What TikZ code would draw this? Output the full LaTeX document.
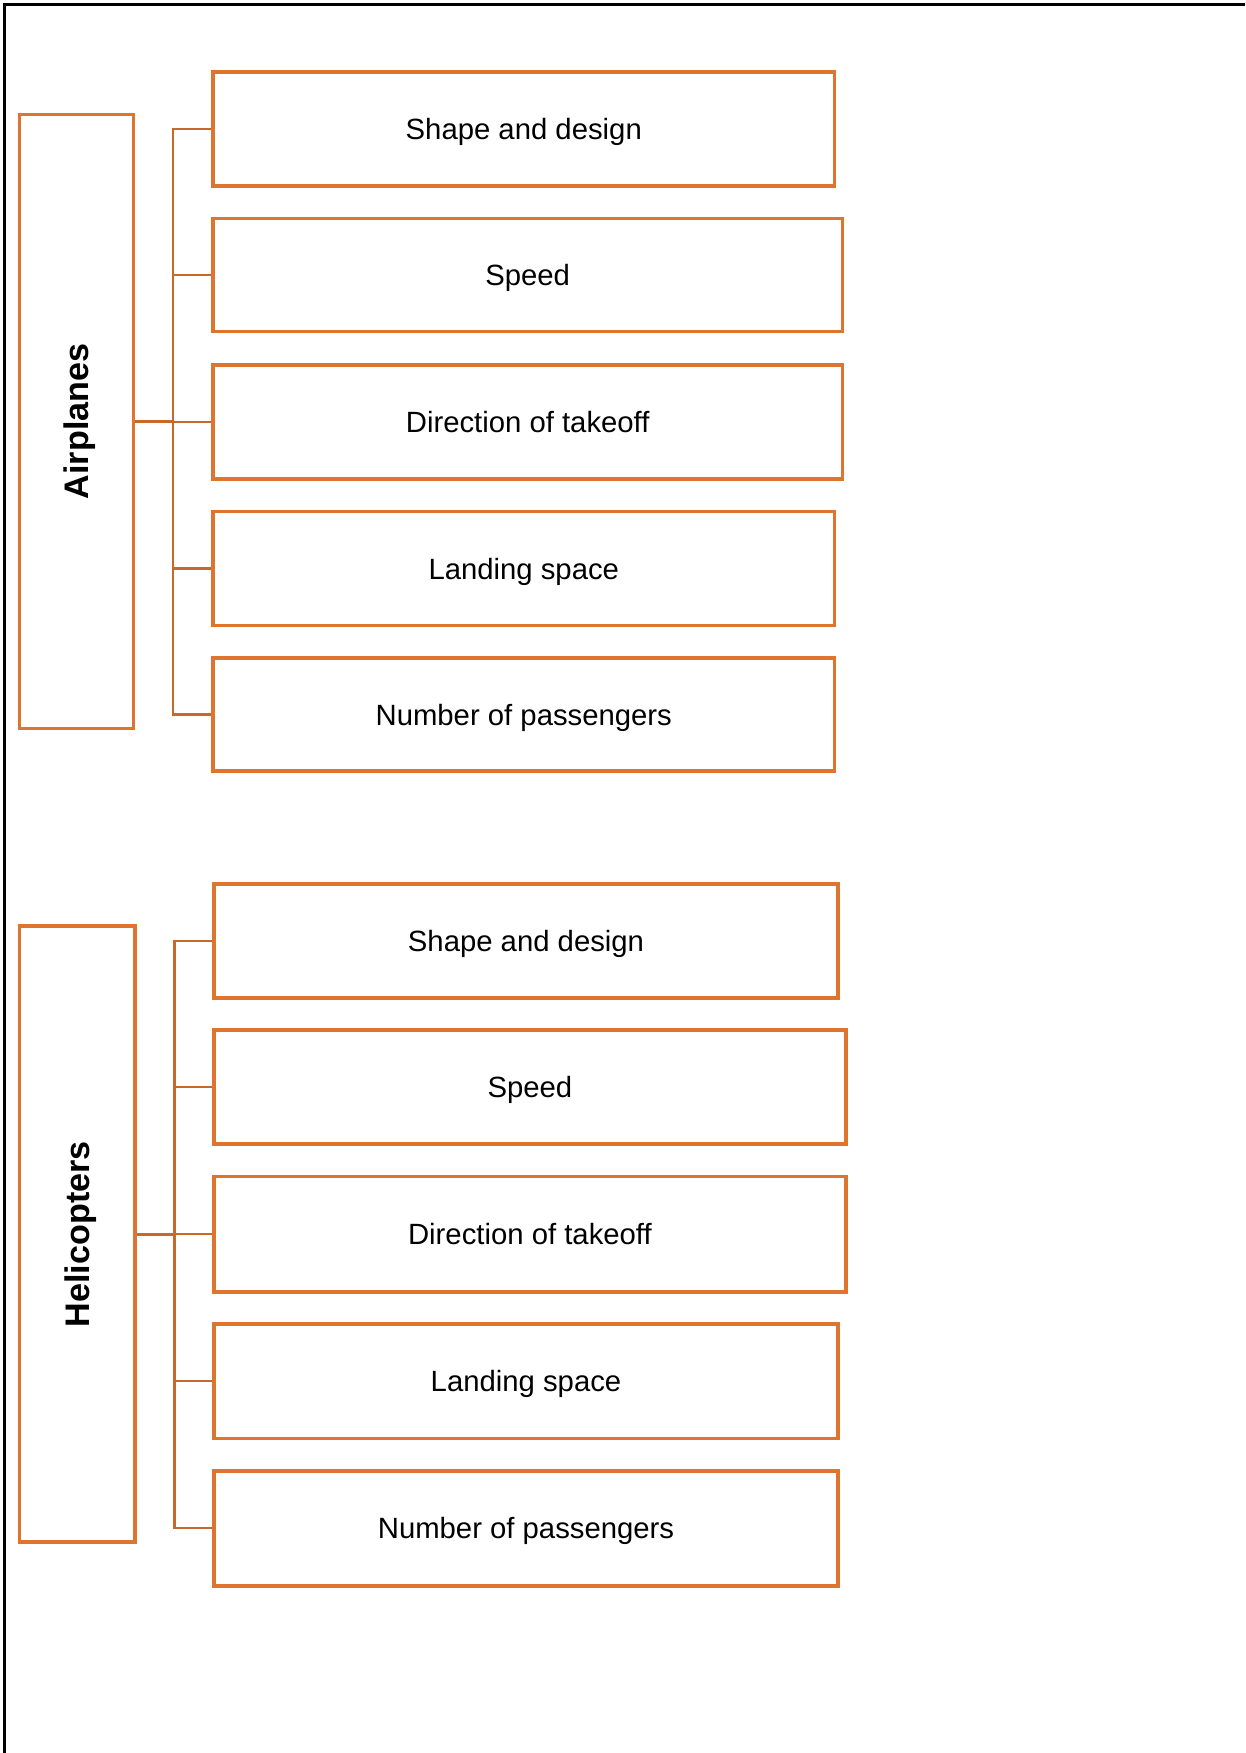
\documentclass[tikz,border=0pt]{standalone}
\usepackage{fontspec}
\setmainfont{Liberation Sans}
\definecolor{boxorange}{RGB}{222,116,46}
\definecolor{lineorange}{RGB}{200,104,42}
\begin{document}
\begin{tikzpicture}[x=1pt,y=-1pt,
  itembox/.style={draw=boxorange,line width=3.2pt,fill=white,inner sep=0pt,
    text height=19pt,text depth=0pt,
    font=\fontsize{26.2}{31}\selectfont},
  groupbox/.style={draw=boxorange,line width=3.2pt,fill=white,inner sep=0pt},
  grouplabel/.style={font=\fontsize{30.5}{36}\selectfont\bfseries,rotate=90,
    text height=22pt,text depth=0pt,inner sep=0pt},
  conn/.style={draw=lineorange,line width=2pt},
  mainconn/.style={draw=lineorange,line width=3pt}]
\useasboundingbox (0,0) rectangle (1114,1568);
\draw[black,line width=2pt] (4,1568) -- (4,4) -- (1114,4);
% Airplanes
\node[groupbox,minimum width=102pt,minimum height=549pt] (A) at (68.5,377) {};
\node[grouplabel] (Alab) at (A.center) {Airplanes};
\node[itembox,minimum width=556pt,minimum height=102pt] (a1) at (468.5,115.5) {Shape and design};
\node[itembox,minimum width=563pt,minimum height=101pt] (a2) at (472,246) {Speed};
\node[itembox,minimum width=563pt,minimum height=102pt] (a3) at (472,377.5) {Direction of takeoff};
\node[itembox,minimum width=556pt,minimum height=102pt] (a4) at (468.5,508.5) {Landing space};
\node[itembox,minimum width=556pt,minimum height=101pt] (a5) at (468.5,639) {Number of passengers};
\coordinate (ja) at (155,377);
\draw[mainconn] (A.east) -- (ja);
\draw[conn] (a1.west) -| (ja) |- (a5.west);
\foreach \n in {a2,a3,a4} \draw[conn] (\n.west -| ja) -- (\n.west);
% Helicopters
\node[groupbox,minimum width=103pt,minimum height=551pt] (H) at (69,1104) {};
\node[grouplabel] (Hlab) at (H.center) {Helicopters};
\node[itembox,minimum width=558pt,minimum height=102pt] (h1) at (470.5,841.5) {Shape and design};
\node[itembox,minimum width=565pt,minimum height=102pt] (h2) at (474,972.5) {Speed};
\node[itembox,minimum width=565pt,minimum height=103pt] (h3) at (474,1104) {Direction of takeoff};
\node[itembox,minimum width=558pt,minimum height=102pt] (h4) at (470.5,1235.5) {Landing space};
\node[itembox,minimum width=558pt,minimum height=103pt] (h5) at (470.5,1367) {Number of passengers};
\coordinate (jh) at (156,1104);
\draw[mainconn] (H.east) -- (jh);
\draw[conn] (h1.west) -| (jh) |- (h5.west);
\foreach \n in {h2,h3,h4} \draw[conn] (\n.west -| jh) -- (\n.west);
\end{tikzpicture}
\end{document}
